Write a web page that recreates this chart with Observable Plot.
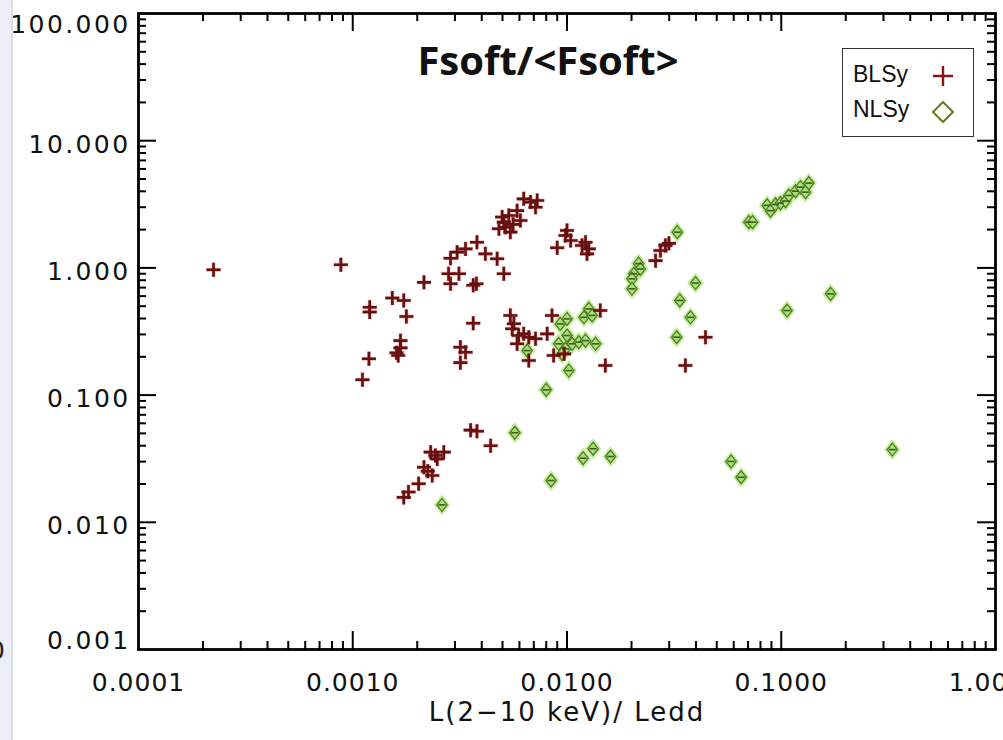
<!DOCTYPE html>
<html>
<head>
<meta charset="utf-8">
<script src="https://cdn.jsdelivr.net/npm/d3@7"></script>
<script src="https://cdn.jsdelivr.net/npm/@observablehq/plot@0.6"></script>
<style>
  html, body { margin: 0; padding: 0; }
  body { width: 1003px; height: 740px; position: relative; overflow: hidden;
         background: linear-gradient(90deg, #eceef8 0px, #eceef8 11px, #dcdff0 11px, #dcdff0 13px, #ffffff 13px); }
  #chart { position: absolute; left: 0; top: 0; }
  #title { position: absolute; left: 398px; top: 32px; width: 300px; text-align: center; white-space: nowrap;
           font-family: "Open Sans", sans-serif; font-weight: 700; font-size: 40px; color: #111; }
  #edge { position: absolute; left: -11px; top: 636px; font-family: "DejaVu Sans", sans-serif; font-size: 25px; color: #222; }
  #legend { position: absolute; left: 842px; top: 48px; width: 130px; height: 87px;
            border: 1.5px solid #333; background: #fff; font-family: "Liberation Sans", Arial, sans-serif;
            font-size: 23px; color: #111; }
  #legend .row { position: absolute; left: 10px; }
  #legend svg { position: absolute; }
</style>
</head>
<body>
<div id="chart"></div>
<div id="title">Fsoft/&lt;Fsoft&gt;</div>
<div id="edge">0</div>
<div id="legend">
  <div class="row" style="top:12px">BLSy</div>
  <svg style="left:88px;top:15px" width="24" height="24"><path d="M2,12H22M12,2V22" stroke="#8a1515" stroke-width="2.4" fill="none"/></svg>
  <div class="row" style="top:47px">NLSy</div>
  <svg style="left:88px;top:51px" width="24" height="24"><path d="M12,2L22,12L12,22L2,12Z" stroke="#5f7f20" stroke-width="2" fill="none"/></svg>
</div>
<script>
// ---- data ----
const blsyX = [2.24e-4, 8.8e-4, 1.20e-3, 1.20e-3, 1.53e-3, 1.73e-3, 1.78e-3, 2.15e-3,
  1.67e-3, 1.60e-3, 1.67e-3, 1.63e-3, 1.19e-3, 1.11e-3,
  2.86e-3, 3.07e-3, 3.36e-3, 2.80e-3, 3.13e-3, 2.86e-3, 3.65e-3, 3.78e-3,
  3.80e-3, 4.16e-3, 4.72e-3, 5.07e-3, 3.65e-3, 3.18e-3, 3.36e-3, 3.18e-3,
  3.55e-3, 3.80e-3, 4.40e-3,
  2.66e-3, 2.43e-3, 2.31e-3, 2.48e-3, 2.15e-3, 2.24e-3, 2.35e-3, 2.03e-3, 1.82e-3, 1.73e-3,
  4.81e-3, 5.07e-3, 5.35e-3, 5.16e-3, 5.44e-3, 5.85e-3, 6.06e-3, 6.28e-3, 6.76e-3, 7.26e-3, 7.13e-3, 4.98e-3, 5.60e-3,
  0.0100, 0.00984, 0.0104, 0.0090,
  0.0122, 0.01264, 0.0124, 0.01175,
  5.44e-3, 5.65e-3, 5.55e-3,
  5.95e-3, 6.28e-3, 6.63e-3, 7.13e-3, 8.08e-3,
  5.85e-3, 6.63e-3, 8.51e-3, 8.66e-3, 0.0143, 0.0151, 0.0097,
  0.0357, 0.0443,
  0.0259, 0.0273, 0.0288, 0.0299];
const blsyY = [0.966, 1.06, 0.49, 0.45, 0.58, 0.555, 0.415, 0.77,
  0.268, 0.215, 0.235, 0.205, 0.193, 0.132,
  1.19, 1.33, 1.41, 0.90, 0.90, 0.75, 0.73, 0.75,
  1.59, 1.29, 1.18, 0.90, 0.367, 0.238, 0.217, 0.18,
  0.053, 0.052, 0.040,
  0.0356, 0.0335, 0.0356, 0.0315, 0.0271, 0.0252, 0.0233, 0.0201, 0.0173, 0.0157,
  2.03, 2.29, 2.58, 2.09, 1.91, 2.82, 2.36, 3.49, 3.29, 3.39, 3.00, 2.51, 2.20,
  1.97, 1.80, 1.64, 1.44,
  1.59, 1.41, 1.29, 1.50,
  0.423, 0.364, 0.332,
  0.294, 0.303, 0.285, 0.277, 0.303,
  0.253, 0.187, 0.423, 0.205, 0.463, 0.171, 0.211,
  0.171, 0.285,
  1.14, 1.37, 1.50, 1.56];

const nlsyX = [2.61e-3, 0.0327,
  0.0216, 0.0220, 0.0205, 0.0201, 0.0201,
  0.0398, 0.0336, 0.0377, 0.0325,
  0.0100, 0.0093, 0.0120, 0.01264, 0.0131, 0.0100, 0.00914, 0.00984, 0.01057, 0.01135, 0.0122, 0.0136, 6.52e-3, 9.48e-3, 0.0102, 8.0e-3,
  5.71e-3, 8.43e-3, 0.01189, 0.01324, 0.01596,
  0.0706, 0.0735, 0.0859, 0.0891, 0.0940, 0.0991, 0.1047, 0.1085, 0.1166, 0.1230, 0.1298, 0.1345,
  0.1064, 0.170,
  0.0583, 0.0650, 0.330];
const nlsyY = [0.0137, 1.91,
  1.08, 0.98, 0.90, 0.82, 0.685,
  0.76, 0.555, 0.409, 0.285,
  0.397, 0.363, 0.409, 0.476, 0.423, 0.294, 0.253, 0.231, 0.253, 0.261, 0.268, 0.253, 0.224, 0.211, 0.156, 0.110,
  0.0506, 0.0213, 0.0319, 0.0379, 0.0329,
  2.29, 2.29, 3.10, 2.82, 3.15, 3.23, 3.35, 3.71, 4.01, 4.31, 3.94, 4.64,
  0.462, 0.625,
  0.0301, 0.0226, 0.0373];

const xTicks = [1e-4, 1e-3, 1e-2, 1e-1, 1];
const xTickLabels = ["0.0001", "0.0010", "0.0100", "0.1000", "1.0000"];
const yTicks = [1e-3, 1e-2, 1e-1, 1, 10, 100];
const yTickLabels = ["0.001", "0.010", "0.100", "1.000", "10.000", "100.000"];
const xTitle = "L(2\u221210 keV)/ Ledd";

// ---- build ----
const blsy = blsyX.map((x, i) => ({x, y: blsyY[i]}));
const nlsy = nlsyX.map((x, i) => ({x, y: nlsyY[i]}));
const xMinor = xTicks.slice(0, -1).flatMap(t => [2,3,4,5,6,7,8,9].map(k => k * t));
const yMinor = yTicks.slice(0, -1).flatMap(t => [2,3,4,5,6,7,8,9].map(k => k * t));
const xLab = xTicks.map((v, i) => ({v, t: xTickLabels[i]}));
const yLab = yTicks.map((v, i) => ({v, t: yTickLabels[i]}));

const W = 1003, H = 740, mL = 138, mR = 8, mT = 13, mB = 91;
const pW = W - mL - mR, pH = H - mT - mB;
const MAJ = 18, MIN = 8;

const plusSym = {draw(ctx, size) { const r = Math.sqrt(size / Math.PI);
  ctx.moveTo(-r, 0); ctx.lineTo(r, 0); ctx.moveTo(0, -r); ctx.lineTo(0, r); }};
const diamondSym = {draw(ctx, size) { const r = Math.sqrt(size / Math.PI); const w = r * 0.8;
  ctx.moveTo(0, -r); ctx.lineTo(w, 0); ctx.lineTo(0, r); ctx.lineTo(-w, 0); ctx.closePath(); }};
const dashSym = {draw(ctx, size) { const r = Math.sqrt(size / Math.PI);
  ctx.moveTo(-r, 0); ctx.lineTo(r, 0); }};

const lblFont = {fontFamily: "DejaVu Sans", fontSize: 25, fill: "#111"};

const plot = Plot.plot({
  width: W, height: H,
  marginLeft: mL, marginRight: mR, marginTop: mT, marginBottom: mB,
  style: {background: "transparent", overflow: "hidden"},
  x: {type: "log", domain: [1e-4, 1], axis: null},
  y: {type: "log", domain: [1e-3, 100], axis: null},
  marks: [
    Plot.frame({fill: "#fff"}),
    // ticks
    Plot.tickX(xTicks.slice(1, -1), {x: d => d, insetTop: pH - MAJ, stroke: "#000", strokeWidth: 2}),
    Plot.tickX(xTicks.slice(1, -1), {x: d => d, insetBottom: pH - MAJ, stroke: "#000", strokeWidth: 2}),
    Plot.tickX(xMinor, {x: d => d, insetTop: pH - MIN, stroke: "#000", strokeWidth: 2}),
    Plot.tickX(xMinor, {x: d => d, insetBottom: pH - MIN, stroke: "#000", strokeWidth: 2}),
    Plot.tickY(yTicks.slice(1, -1), {y: d => d, insetRight: pW - MAJ, stroke: "#000", strokeWidth: 2}),
    Plot.tickY(yTicks.slice(1, -1), {y: d => d, insetLeft: pW - MAJ, stroke: "#000", strokeWidth: 2}),
    Plot.tickY(yMinor, {y: d => d, insetRight: pW - MIN, stroke: "#000", strokeWidth: 2}),
    Plot.tickY(yMinor, {y: d => d, insetLeft: pW - MIN, stroke: "#000", strokeWidth: 2}),
    // data: NLSy
    Plot.dot(nlsy, {x: "x", y: "y", symbol: diamondSym, r: 8, stroke: "#c2f09a", strokeWidth: 3, fill: "#c2f09a"}),
    Plot.dot(nlsy, {x: "x", y: "y", symbol: diamondSym, r: 6.5, stroke: "#56782a", strokeWidth: 1.3, fill: "#a6e27a"}),
    Plot.dot(nlsy, {x: "x", y: "y", symbol: dashSym, r: 3.5, stroke: "#3f5e1c", strokeWidth: 1.6}),
    // data: BLSy
    Plot.dot(blsy, {x: "x", y: "y", symbol: plusSym, r: 7.2, stroke: "#d03a3a", strokeWidth: 3.8, strokeOpacity: 0.4, fill: "none"}),
    Plot.dot(blsy, {x: "x", y: "y", symbol: plusSym, r: 7, stroke: "#661010", strokeWidth: 2.6, fill: "none"}),
    Plot.frame({stroke: "#000", strokeWidth: 2.8}),
    // tick labels
    Plot.text(xLab, {x: "v", y: () => 1e-3, text: "t", dy: 33, textAnchor: "middle", ...lblFont}),
    Plot.text(yLab.slice(1, -1), {x: () => 1e-4, y: "v", text: "t", dx: -8, dy: 4, textAnchor: "end", ...lblFont}),
    Plot.text(yLab.slice(0, 1), {x: () => 1e-4, y: "v", text: "t", dx: -8, dy: -9, textAnchor: "end", ...lblFont}),
    Plot.text(yLab.slice(-1), {x: () => 1e-4, y: "v", text: "t", dx: -8, dy: 11, textAnchor: "end", ...lblFont}),
    Plot.text([xTitle], {frameAnchor: "bottom", dy: 71, text: d => d, fontFamily: "DejaVu Sans", fontSize: 26, fill: "#111"})
  ]
});
// widen the IDL-style lettering
d3.select(plot).selectAll("text").each(function () {
  const s = this.textContent;
  if (yTickLabels.includes(s)) this.style.letterSpacing = "2.4px";
  else if (xTickLabels.includes(s)) this.style.letterSpacing = "1px";
  else if (s === xTitle) this.style.letterSpacing = "2px";
});
document.getElementById("chart").appendChild(plot);
</script>
</body>
</html>
